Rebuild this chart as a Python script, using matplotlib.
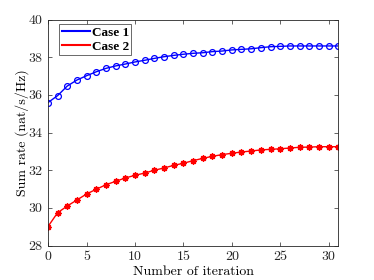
import matplotlib
matplotlib.use('Agg')
from matplotlib import pyplot as plt
import numpy as np

# iteration index (plotted 1..31, labelled from 0)
iters = np.arange(1, 32)
case1 = [35.59, 35.96, 36.47, 36.79, 37.02, 37.23, 37.41, 37.54, 37.64, 37.75,
         37.84, 37.94, 38.03, 38.10, 38.16, 38.21, 38.24, 38.30, 38.33, 38.39,
         38.42, 38.45, 38.51, 38.56, 38.58, 38.60, 38.60, 38.60, 38.60, 38.60, 38.60]
case2 = [29.00, 29.74, 30.10, 30.42, 30.74, 30.99, 31.23, 31.41, 31.59, 31.73,
         31.85, 32.00, 32.12, 32.26, 32.37, 32.51, 32.63, 32.74, 32.83, 32.90,
         32.97, 33.02, 33.08, 33.11, 33.14, 33.18, 33.22, 33.23, 33.25, 33.25, 33.25]
xtick_pos = [1, 5, 10, 15, 20, 25, 30]
xtick_lab = ['0', '5', '10', '15', '20', '25', '30']
ytick_pos = [28, 30, 32, 34, 36, 38, 40]

fig = plt.figure(figsize=(3.74, 2.8), dpi=100)
ax = fig.add_axes([0.128, 0.123, 0.7765, 0.807])

ax.plot(iters, case1, color='#0000ff', lw=1, marker='o', ms=4.2,
        mfc='none', mew=0.9, label='Case 1')
ax.plot(iters, case2, color='#ff0000', lw=1, marker=(8, 2, 0), ms=4.5,
        mew=1.0, label='Case 2')

ax.set_xlim(1, 31)
ax.set_ylim(28, 40)
ax.set_xticks(xtick_pos)
ax.set_xticklabels(xtick_lab)
ax.set_yticks(ytick_pos)

cm = {'family': 'cmr10', 'size': 10}
for lab in ax.get_xticklabels() + ax.get_yticklabels():
    lab.set_fontfamily('cmr10')
    lab.set_fontsize(10)
    lab.set_color('#262626')
ax.set_xlabel('Number of iteration', fontdict=cm, va='center')
ax.set_ylabel('Sum rate (nat/s/Hz)', fontdict=cm, va='center')
ax.xaxis.set_label_coords(0.5, -0.115)
ax.yaxis.set_label_coords(-0.088, 0.5)

ax.tick_params(direction='in', length=3, width=0.5, top=True, right=True,
               colors='#262626', pad=4)
for s in ax.spines.values():
    s.set_linewidth(0.6)
    s.set_color('#262626')

leg = ax.legend(loc='upper left', bbox_to_anchor=(0.039, 0.98),
                prop={'family': 'Liberation Serif', 'weight': 'bold', 'size': 9.5},
                fancybox=False, edgecolor='#262626', handlelength=2.1,
                handletextpad=0.15, borderpad=0.2, labelspacing=0.1,
                borderaxespad=0)
leg.get_frame().set_linewidth(0.6)
for h in leg.legend_handles:
    h.set_marker('')
    h.set_linewidth(1.5)

fig.savefig('out.png', dpi=100)
